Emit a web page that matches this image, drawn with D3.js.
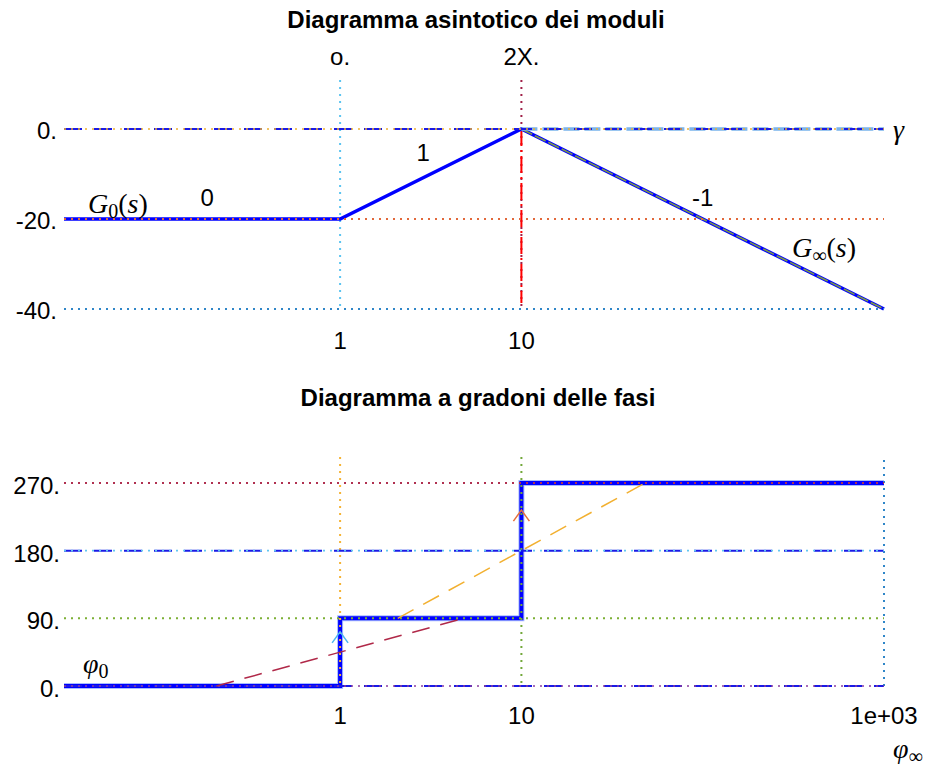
<!DOCTYPE html>
<html>
<head>
<meta charset="utf-8">
<script src="https://cdn.jsdelivr.net/npm/d3@7"></script>
<style>
  html, body { margin: 0; padding: 0; background: #fff; }
  svg { display: block; }
  .lbl { font-family: "Liberation Sans", Arial, sans-serif; font-size: 24px; fill: #000; }
  .ttl { font-family: "Liberation Sans", Arial, sans-serif; font-size: 24px; font-weight: bold; fill: #000; }
  .math { font-family: "Liberation Serif", "Times New Roman", serif; font-size: 28px; fill: #000; }
</style>
</head>
<body>
<script>
// ---- data ---------------------------------------------------------------
const freqDomain = [0.03, 1000];

// magnitude diagram (dB)
const magTicks = [0, -20, -40];
const magTickLabels = ["0.", "-20.", "-40."];
const magBreaks = [1, 10];
const magTopLabels = ["o.", "2X."];
const magBottomLabels = ["1", "10"];
const magAsymptote = [[0.03, -20], [1, -20], [10, 0], [1000, -40]];
const gainHigh = [[10, 0], [1000, -40]];      // G_inf(s) asymptote
const gammaLine = [[10, 0], [1000, 0]];       // gamma level
const slopeNotes = [
  { text: "0",  w: 0.185, v: -15.0 },
  { text: "1",  w: 2.87,  v: -5.1 },
  { text: "-1", w: 100,   v: -15.1 }
];

// phase diagram (degrees)
const phaseTicks = [0, 90, 180, 270];
const phaseTickLabels = ["0.", "90.", "180.", "270."];
const phaseFreqTicks = [1, 10, 1000];
const phaseFreqLabels = ["1", "10", "1e+03"];
const phaseSteps = [[0.03, 0], [1, 0], [1, 90], [10, 90], [10, 270], [1000, 270]];
const phaseSlopeA = [[0.2079, 0], [4.81, 90]];
const phaseSlopeB = [[2.079, 90], [48.1, 270]];
const phaseArrows = [
  { w: 1,  tip: 72,  color: "#4db8f0" },
  { w: 10, tip: 234, color: "#e8703a" }
];

// ---- layout -------------------------------------------------------------
const W = 932, H = 771;
const left = 64, right = 884;

const svg = d3.select("body").append("svg")
  .attr("width", W).attr("height", H);

const x = d3.scaleLog().domain(freqDomain).range([left, right]);
const yMag = d3.scaleLinear().domain([-40, 0]).range([309, 129]);
const yPh = d3.scaleLinear().domain([0, 270]).range([686, 483]);

const magTop = 80, phTop = 457;

function seg(g, pts, y, style) {
  const line = d3.line().x(d => x(d[0])).y(d => y(d[1]));
  const p = g.append("path").attr("d", line(pts)).attr("fill", "none")
    .attr("stroke", style.c).attr("stroke-width", style.w || 2);
  if (style.dash) p.attr("stroke-dasharray", style.dash);
  if (style.cap) p.attr("stroke-linecap", style.cap);
  if (style.join) p.attr("stroke-linejoin", style.join);
  return p;
}
function hline(g, v, y, style) {
  return seg(g, [[freqDomain[0], v], [freqDomain[1], v]], y, style);
}
function vline(g, w, y0, y1, style) {
  const p = g.append("line").attr("x1", x(w)).attr("x2", x(w))
    .attr("y1", y0).attr("y2", y1).attr("stroke", style.c)
    .attr("stroke-width", style.w || 2);
  if (style.dash) p.attr("stroke-dasharray", style.dash);
  return p;
}

// ---- magnitude diagram --------------------------------------------------
const gm = svg.append("g");

gm.append("text").attr("class", "ttl").attr("x", 476).attr("y", 28)
  .attr("text-anchor", "middle").text("Diagramma asintotico dei moduli");

// vertical guides at the break frequencies
vline(gm, magBreaks[0], magTop, yMag(-40), { c: "#5cc4f0", w: 2, dash: "2,5" });
vline(gm, magBreaks[1], magTop, yMag(-40), { c: "#a02048", w: 2, dash: "2,5" });
vline(gm, magBreaks[1], yMag(0), yMag(-40) - 6, { c: "#ff0000", w: 2, dash: "17,4,2,4" });

// asymptotes
seg(gm, magAsymptote, yMag, { c: "#0000ff", w: 3.5, join: "miter" });
seg(gm, gainHigh, yMag, { c: "#7d9a45", w: 1.6, dash: "12,3" });
seg(gm, gammaLine, yMag, { c: "#7ab4ec", w: 3.5, dash: "16,5" });

// horizontal guides
hline(gm, 0, yMag, { c: "#1a1ae6", w: 2, dash: "18,12" });
hline(gm, 0, yMag, { c: "#f0b030", w: 1.6, dash: "2,5" });
hline(gm, -20, yMag, { c: "#e2683a", w: 2, dash: "2,5" });
hline(gm, -40, yMag, { c: "#2f86c8", w: 2, dash: "2,5" });

// tick labels
magTicks.forEach((v, i) => {
  gm.append("text").attr("class", "lbl").attr("x", 57).attr("y", yMag(v) + 10)
    .attr("text-anchor", "end").text(magTickLabels[i]);
});
magBreaks.forEach((w, i) => {
  gm.append("text").attr("class", "lbl").attr("x", x(w)).attr("y", 65)
    .attr("text-anchor", "middle").text(magTopLabels[i]);
  gm.append("text").attr("class", "lbl").attr("x", x(w)).attr("y", 349)
    .attr("text-anchor", "middle").text(magBottomLabels[i]);
});

// slope notes
slopeNotes.forEach(n => {
  gm.append("text").attr("class", "lbl").attr("x", x(n.w)).attr("y", yMag(n.v) + 9)
    .attr("text-anchor", "middle").text(n.text);
});

// function names
function mathLabel(g, px, py, parts) {
  const t = g.append("text").attr("class", "math").attr("x", px).attr("y", py);
  parts.forEach(p => {
    const s = t.append("tspan").text(p.t);
    if (p.it) s.attr("font-style", "italic");
    if (p.sub) s.attr("font-size", "20px").attr("dy", 5);
    if (p.up) s.attr("dy", -5);
  });
  return t;
}
mathLabel(gm, x(0.0407), yMag(-18.7), [
  { t: "G", it: true }, { t: "0", sub: true }, { t: "(", up: true }, { t: "s", it: true }, { t: ")" }
]);
mathLabel(gm, x(311), yMag(-28.4), [
  { t: "G", it: true }, { t: "∞", sub: true }, { t: "(", up: true }, { t: "s", it: true }, { t: ")" }
]);
mathLabel(gm, x(1121), yMag(-2.2), [{ t: "γ", it: true }]);

// ---- phase diagram ------------------------------------------------------
const gp = svg.append("g");

gp.append("text").attr("class", "ttl").attr("x", 478).attr("y", 406)
  .attr("text-anchor", "middle").text("Diagramma a gradoni delle fasi");

// step diagram with halo
seg(gp, phaseSteps, yPh, { c: "#a8bcff", w: 6, join: "miter" });
seg(gp, phaseSteps, yPh, { c: "#0000ff", w: 4, join: "miter" });

// vertical guides
vline(gp, phaseFreqTicks[0], phTop, yPh(0), { c: "#f5b335", w: 2, dash: "2,5" });
vline(gp, phaseFreqTicks[1], phTop, yPh(0), { c: "#72a83a", w: 2, dash: "2,5" });
vline(gp, phaseFreqTicks[2], phTop + 3, yPh(0), { c: "#2f86c8", w: 2, dash: "2,5" });

// horizontal guides
hline(gp, 0, yPh, { c: "#1a1ae6", w: 2, dash: "18,12" });
hline(gp, 0, yPh, { c: "#8a3fa0", w: 1.6, dash: "2,5" });
hline(gp, 90, yPh, { c: "#7cb035", w: 2, dash: "2,5" });
hline(gp, 180, yPh, { c: "#1a1ae6", w: 2, dash: "18,12" });
hline(gp, 180, yPh, { c: "#64c8f2", w: 1.6, dash: "2,5" });
hline(gp, 270, yPh, { c: "#b03050", w: 2, dash: "2,5" });

// approximate phase slopes
seg(gp, phaseSlopeA, yPh, { c: "#b02848", w: 1.5, dash: "18,11" });
seg(gp, phaseSlopeB, yPh, { c: "#f2b030", w: 1.5, dash: "18,11" });

// arrowheads on the jumps
phaseArrows.forEach(a => {
  const cx = x(a.w), cy = yPh(a.tip);
  gp.append("path")
    .attr("d", `M${cx - 8},${cy + 11}L${cx},${cy}L${cx + 8},${cy + 11}`)
    .attr("fill", "none").attr("stroke", a.color).attr("stroke-width", 1.5);
});

// tick labels
phaseTicks.forEach((v, i) => {
  gp.append("text").attr("class", "lbl").attr("x", 60).attr("y", yPh(v) + 11)
    .attr("text-anchor", "end").text(phaseTickLabels[i]);
});
phaseFreqTicks.forEach((w, i) => {
  gp.append("text").attr("class", "lbl").attr("x", x(w)).attr("y", 724)
    .attr("text-anchor", "middle").text(phaseFreqLabels[i]);
});

mathLabel(gp, x(0.0382), yPh(17.3), [{ t: "φ", it: true }, { t: "0", sub: true }]);
mathLabel(gp, x(1120), yPh(-96), [{ t: "φ", it: true }, { t: "∞", sub: true }]);
</script>
</body>
</html>
